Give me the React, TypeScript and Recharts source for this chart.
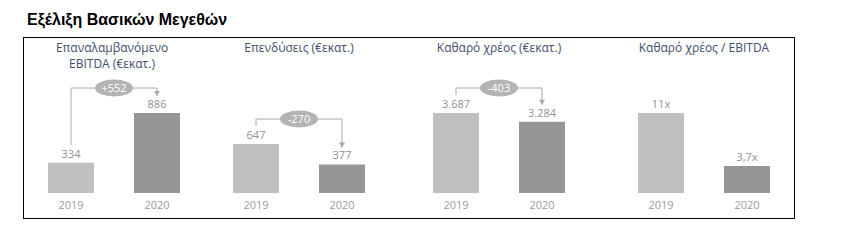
import React from 'react';
import {
  BarChart,
  Bar,
  XAxis,
  YAxis,
  Cell,
  LabelList,
  ReferenceLine,
} from 'recharts';

// values
const YEARS = ['2019', '2020'];
const EBITDA = [334, 886];
const CAPEX = [647, 377];
const NET_DEBT = [3687, 3284];
const LEVERAGE = [11, 3.7];

const BAR_COLORS = ['#c0c0c0', '#969696'];
const LINE_COLOR = '#a8a8a8';
const BADGE_COLOR = '#b4b4b4';
const TITLE_COLOR = '#414e6d';
const VALUE_COLOR = '#929292';
const YEAR_COLOR = '#9a9a9a';

const CHART_W = 172;
const CHART_H = 243;
const PLOT_TOP = 73;
const PLOT_H = 120;

const fmtInt = (v: number) => String(v);
const fmtThousands = (v: number) =>
  String(v).replace(/\B(?=(\d{3})+(?!\d))/g, '.');
const fmtMultiple = (v: number) => String(v).replace('.', ',') + 'x';

const PANELS = [
  {
    title: ['Επαναλαμβανόμενο', 'EBITDA (€εκατ.)'],
    values: EBITDA,
    yMax: 1330,
    left: 28,
    titleShift: -2,
    fmt: fmtInt,
    bracket: true,
  },
  {
    title: ['Επενδύσεις (€εκατ.)'],
    values: CAPEX,
    yMax: 1585,
    left: 213,
    titleShift: 0,
    fmt: fmtInt,
    bracket: true,
  },
  {
    title: ['Καθαρό χρέος (€εκατ.)'],
    values: NET_DEBT,
    yMax: 5530,
    left: 413,
    titleShift: 0,
    fmt: fmtThousands,
    bracket: true,
  },
  {
    title: ['Καθαρό χρέος / EBITDA'],
    values: LEVERAGE,
    yMax: 16.5,
    left: 618,
    titleShift: 0,
    fmt: fmtMultiple,
    bracket: false,
  },
];

const badgeLine = (text: string) => (p: any) => {
  const cx = (p.x1 + p.x2) / 2;
  return (
    <g>
      <line x1={p.x1} y1={p.y1} x2={p.x2} y2={p.y2} stroke={LINE_COLOR} />
      <ellipse cx={cx} cy={p.y1} rx={19} ry={8.5} fill={BADGE_COLOR} />
      <text
        x={cx}
        y={p.y1}
        dy="0.35em"
        textAnchor="middle"
        fill="#ffffff"
        fontSize={11}
      >
        {text}
      </text>
    </g>
  );
};

const arrowLine = (p: any) => (
  <g>
    <line x1={p.x1} y1={p.y1} x2={p.x2} y2={p.y2} stroke={LINE_COLOR} />
    <path
      d={`M${p.x2 - 3},${p.y2 - 5}L${p.x2 + 3},${p.y2 - 5}L${p.x2},${p.y2}Z`}
      fill={LINE_COLOR}
    />
  </g>
);

function Panel({ panel }: { panel: (typeof PANELS)[number] }) {
  const data = YEARS.map((year, i) => ({ year, value: panel.values[i] }));
  const [a, b] = panel.values;
  const px = panel.yMax / PLOT_H;
  const level = Math.max(a, b) + 25 * px;
  const diff = b - a;
  const diffText = (diff > 0 ? '+' : '') + fmtInt(diff);

  return (
    <div style={{ position: 'absolute', left: panel.left, top: 0 }}>
      <BarChart
        width={CHART_W}
        height={CHART_H}
        data={data}
        margin={{ top: PLOT_TOP, right: 0, bottom: 30, left: 0 }}
        barCategoryGap={20}
      >
        <XAxis
          dataKey="year"
          axisLine={false}
          tickLine={false}
          height={20}
          tick={{ fill: YEAR_COLOR, fontSize: 11 }}
        />
        <YAxis hide domain={[0, panel.yMax]} />
        <Bar dataKey="value" barSize={46} isAnimationActive={false}>
          {data.map((d, i) => (
            <Cell key={d.year} fill={BAR_COLORS[i]} />
          ))}
          <LabelList
            dataKey="value"
            position="top"
            offset={5}
            fill={VALUE_COLOR}
            fontSize={11}
            formatter={(v: any) => panel.fmt(Number(v))}
          />
        </Bar>
        {panel.bracket && (
          <ReferenceLine
            segment={[
              { x: YEARS[0], y: a + 18 * px },
              { x: YEARS[0], y: level },
            ]}
            stroke={LINE_COLOR}
          />
        )}
        {panel.bracket && (
          <ReferenceLine
            segment={[
              { x: YEARS[0], y: level },
              { x: YEARS[1], y: level },
            ]}
            shape={badgeLine(diffText)}
          />
        )}
        {panel.bracket && (
          <ReferenceLine
            segment={[
              { x: YEARS[1], y: level },
              { x: YEARS[1], y: b + 17 * px },
            ]}
            shape={arrowLine}
          />
        )}
      </BarChart>
    </div>
  );
}

export default function App() {
  return (
    <div
      style={{
        position: 'absolute',
        left: 0,
        top: 0,
        width: 841,
        height: 243,
        background: '#fff',
        fontFamily: '"Open Sans", sans-serif',
      }}
    >
      <div
        style={{
          position: 'absolute',
          left: 27,
          top: 11,
          fontFamily: '"Liberation Sans", Arial, sans-serif',
          fontWeight: 'bold',
          fontSize: 16,
          color: '#000',
        }}
      >
        Εξέλιξη Βασικών Μεγεθών
      </div>
      <div
        style={{
          position: 'absolute',
          left: 23,
          top: 37,
          width: 772,
          height: 182,
          border: '1px solid #000',
          boxSizing: 'border-box',
        }}
      />
      {PANELS.map((p) => (
        <Panel key={p.title.join(' ')} panel={p} />
      ))}
      {PANELS.map((p) => (
        <div
          key={'t' + p.left}
          style={{
            position: 'absolute',
            left: p.left - 20 + p.titleShift,
            top: 40,
            width: CHART_W + 40,
            textAlign: 'center',
            fontSize: 12,
            lineHeight: '16px',
            color: TITLE_COLOR,
          }}
        >
          {p.title.map((line) => (
            <div key={line}>{line}</div>
          ))}
        </div>
      ))}
    </div>
  );
}
